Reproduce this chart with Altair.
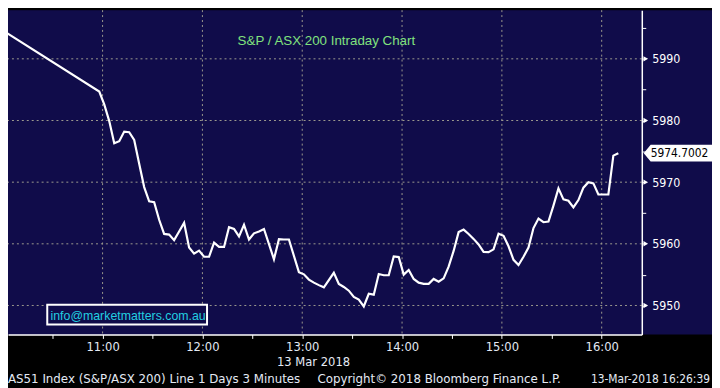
import altair as alt
import pandas as pd

# ---- data ----
times = ["10:00", "10:58", "11:01", "11:04", "11:07", "11:10", "11:13", "11:16", "11:19", "11:22",
         "11:25", "11:28", "11:31", "11:34", "11:37", "11:40", "11:43", "11:46", "11:49", "11:52",
         "11:55", "11:58", "12:01", "12:04", "12:07", "12:10", "12:13", "12:16", "12:19", "12:22",
         "12:25", "12:28", "12:31", "12:34", "12:37", "12:43", "12:46", "12:49", "12:52", "12:58",
         "13:01", "13:04", "13:07", "13:10", "13:13", "13:19", "13:22", "13:25", "13:28", "13:31",
         "13:34", "13:37", "13:40", "13:43", "13:46", "13:49", "13:52", "13:55", "13:58", "14:01",
         "14:04", "14:07", "14:10", "14:13", "14:16", "14:19", "14:22", "14:25", "14:28", "14:31",
         "14:34", "14:37", "14:40", "14:43", "14:46", "14:49", "14:52", "14:55", "14:58", "15:01",
         "15:04", "15:07", "15:10", "15:13", "15:16", "15:19", "15:22", "15:25", "15:28", "15:31",
         "15:34", "15:37", "15:40", "15:43", "15:46", "15:49", "15:52", "15:55", "15:58", "16:01",
         "16:04", "16:07", "16:10"]
values = [5994.6, 5984.7, 5982.6, 5979.9, 5976.3, 5976.65, 5978.2, 5978.1, 5976.85, 5973.0,
          5969.2, 5966.9, 5966.75, 5963.9, 5961.6, 5961.5, 5960.6, 5962.0, 5963.4, 5959.4,
          5958.4, 5958.9, 5957.9, 5957.9, 5960.2, 5959.5, 5959.5, 5962.7, 5962.4, 5961.2,
          5963.1, 5960.7, 5961.7, 5962.0, 5962.4, 5957.5, 5960.75, 5960.7, 5960.7, 5955.4,
          5955.05, 5954.2, 5953.7, 5953.3, 5952.95, 5955.3, 5953.5, 5953.0, 5952.4, 5951.4,
          5950.96, 5949.85, 5951.9, 5951.75, 5955.1, 5954.9, 5954.9, 5957.95, 5957.85, 5955.0,
          5955.75, 5954.3, 5953.7, 5953.5, 5953.5, 5954.3, 5953.85, 5954.4, 5956.3, 5958.85,
          5961.9, 5962.3, 5961.6, 5960.8, 5959.9, 5958.7, 5958.65, 5959.1, 5961.65, 5961.3,
          5959.6, 5957.4, 5956.55, 5957.9, 5959.4, 5962.55, 5964.1, 5963.5, 5963.6, 5966.2,
          5969.0, 5967.2, 5966.98, 5965.9, 5967.1, 5969.1, 5970.0, 5969.8, 5968.0, 5968.0,
          5968.0, 5974.3, 5974.70]

hour_grid = ["11:00", "12:00", "13:00", "14:00", "15:00", "16:00"]
x_ticks = ["10:30", "11:00", "11:30", "12:00", "12:30", "13:00", "13:30", "14:00",
           "14:30", "15:00", "15:30", "16:00"]
y_grid = [5950, 5960, 5970, 5980, 5990]
y_ticks = [5950, 5955, 5960, 5965, 5970, 5975, 5980, 5985, 5990, 5995]

last_label = ["5974.7002"]
title_text = ["S&P / ASX 200 Intraday Chart"]
email_text = ["info@marketmatters.com.au"]
date_text = ["13 Mar 2018"]
footer_left = ["AS51 Index (S&P/ASX 200) Line 1 Days 3 Minutes"]
footer_mid = ["Copyright\u00a9 2018 Bloomberg Finance L.P."]
footer_right = ["13-Mar-2018 16:26:39"]


def to_min(t):
    h, m = t.split(":")
    return (int(h) - 10) * 60 + int(m)


df = pd.DataFrame({"t": [to_min(t) for t in times], "v": values})
vgrid = pd.DataFrame({"t": [to_min(t) for t in hour_grid]})
hgrid = pd.DataFrame({"v": y_grid})
last_df = pd.DataFrame({"v": [values[-1]], "label": last_label})
one = pd.DataFrame({"a": [0]})

NAVY = "#100c4a"
GRID = "#9c9a8e"
NARROW = "'Liberation Sans Narrow', 'DejaVu Sans Condensed', 'Arial Narrow', sans-serif"
SANS = "'Liberation Sans', Arial, sans-serif"
TXT = "#e4eaf4"

W, H = 641, 328

xscale = alt.Scale(domain=[3.15, 384.1], nice=False, zero=False)
yscale = alt.Scale(domain=[5945.3, 5997.9], nice=False, zero=False)

xaxis = alt.Axis(
    title=None, orient="bottom", values=[to_min(t) for t in x_ticks],
    labelExpr="datum.value % 60 == 0 ? (10 + datum.value / 60) + ':00' : ''",
    grid=False, domainColor="#ffffff", domainWidth=1.5, tickColor="#ffffff",
    tickSize=4, tickWidth=1, labelColor=TXT, labelFont=NARROW, labelFontSize=13,
    labelPadding=2, labelOverlap=False, labelFlush=False, zindex=1,
)
yaxis = alt.Axis(
    title=None, orient="right", values=y_ticks, format="d",
    labelExpr="datum.value % 10 == 0 ? datum.label : ''",
    grid=False, domainColor="#ffffff", domainWidth=1.5, tickColor="#ffffff",
    tickSize=4, tickWidth=1, labelColor="#ffffff", labelFont=NARROW, labelFontSize=12.5,
    labelPadding=6, labelOverlap=False, labelFlush=False, zindex=1,
)

X = alt.X("t:Q", scale=xscale, axis=xaxis)
Y = alt.Y("v:Q", scale=yscale, axis=yaxis)

# navy panel behind plot and right-hand label strip
panel = alt.Chart(one).mark_rect(fill=NAVY).encode(
    x=alt.value(0), x2=alt.value(W + 80), y=alt.value(0), y2=alt.value(H)
)

vrules = alt.Chart(vgrid).mark_rule(color=GRID, strokeWidth=1, strokeDash=[2, 3]).encode(x=X)
hrules = alt.Chart(hgrid).mark_rule(color=GRID, strokeWidth=1, strokeDash=[2, 3]).encode(y=Y)

line = alt.Chart(df).mark_line(color="#ffffff", strokeWidth=2.2, clip=True).encode(x=X, y=Y)

arrows = alt.Chart(hgrid).mark_point(
    shape="triangle-right", filled=True, color="#ffffff", size=30, opacity=1
).encode(x=alt.value(W + 4), y=Y)

tag = alt.Chart(last_df).mark_point(
    shape="M -1 0 L -0.82 -0.22 L 1 -0.22 L 1 0.22 L -0.82 0.22 Z",
    filled=True, color="#ffffff", size=77 * 77, opacity=1
).encode(x=alt.value(W + 40.5), y=Y)

tag_text = alt.Chart(last_df).mark_text(
    align="left", baseline="middle", font=NARROW, fontSize=12, color="#000000"
).encode(x=alt.value(W + 9), y=Y, text="label:N")

title = alt.Chart(pd.DataFrame({"s": title_text})).mark_text(
    align="center", baseline="middle", font=SANS, fontSize=13.5, color="#80e27e"
).encode(x=alt.value(322), y=alt.value(31), text="s:N")

email_box = alt.Chart(one).mark_rect(
    fill=NAVY, stroke="#ffffff", strokeWidth=2
).encode(x=alt.value(39.7), x2=alt.value(201.3), y=alt.value(298), y2=alt.value(318))

email = alt.Chart(pd.DataFrame({"s": email_text})).mark_text(
    align="left", baseline="middle", font=SANS, fontSize=12.5, color="#22cfe0"
).encode(x=alt.value(43), y=alt.value(309), text="s:N")

date = alt.Chart(pd.DataFrame({"s": date_text})).mark_text(
    align="center", baseline="alphabetic", font=NARROW, fontSize=13, color=TXT
).encode(x=alt.value(309), y=alt.value(360), text="s:N")

f1 = alt.Chart(pd.DataFrame({"s": footer_left})).mark_text(
    align="left", baseline="alphabetic", font=NARROW, fontSize=13.3, color=TXT
).encode(x=alt.value(0), y=alt.value(377), text="s:N")
f2 = alt.Chart(pd.DataFrame({"s": footer_mid})).mark_text(
    align="left", baseline="alphabetic", font=NARROW, fontSize=13.3, color=TXT
).encode(x=alt.value(313), y=alt.value(377), text="s:N")
f3 = alt.Chart(pd.DataFrame({"s": footer_right})).mark_text(
    align="right", baseline="alphabetic", font=NARROW, fontSize=12, color=TXT
).encode(x=alt.value(710), y=alt.value(377), text="s:N")

chart = alt.layer(
    panel, vrules, hrules, email_box, email, title, line, arrows, tag, tag_text, date, f1, f2, f3
).properties(
    width=W, height=H, background="#000000",
    autosize=alt.AutoSizeParams(type="none"),
    padding={"left": 0, "top": 0, "right": 71, "bottom": 52},
).configure_view(fill=NAVY, stroke="transparent")

chart.save("out.html", embed_options={"renderer": "svg", "actions": False})
